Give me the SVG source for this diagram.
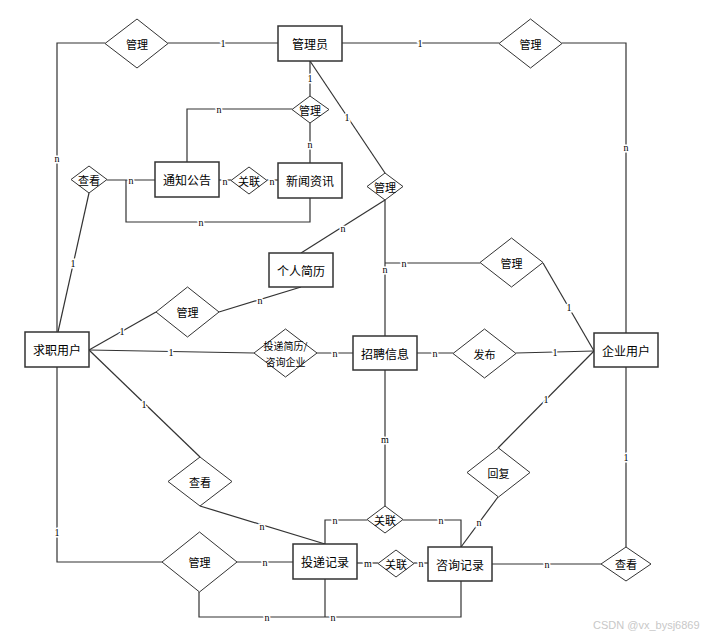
<svg xmlns="http://www.w3.org/2000/svg" width="723" height="638" viewBox="0 0 723 638">
<style>
.bg{fill:#fff}
.box{fill:#fff;stroke:#333;stroke-width:1.5}
.dia{fill:#fff;stroke:#333;stroke-width:1}
.ln{fill:none;stroke:#333;stroke-width:1.2}
.t{font-family:"Noto Sans CJK SC","Liberation Sans",sans-serif;font-size:12px;fill:#000;text-anchor:middle;dominant-baseline:central}
.ts{font-family:"Noto Sans CJK SC","Liberation Sans",sans-serif;font-size:11px;fill:#000;text-anchor:middle;dominant-baseline:central}
.tx{font-family:"Noto Sans CJK SC","Liberation Sans",sans-serif;font-size:10px;fill:#000;text-anchor:middle;dominant-baseline:central}
.lb{font-family:"Liberation Serif",serif;font-size:10px;fill:#000;text-anchor:middle;dominant-baseline:central;stroke:#fff;stroke-width:3;paint-order:stroke}
.wm{font-family:"Liberation Sans",sans-serif;font-size:11px;fill:#c8c8c8}
</style>
<rect class="bg" x="0" y="0" width="723" height="638"/>
<g id="connectors">
<polyline class="ln" points="105,43 57,43 57,332"/>
<line class="ln" x1="168" y1="43" x2="278" y2="43"/>
<line class="ln" x1="342" y1="43" x2="499" y2="43"/>
<polyline class="ln" points="562,43 626,43 626,333"/>
<line class="ln" x1="310" y1="61" x2="310" y2="96"/>
<line class="ln" x1="310" y1="61" x2="385" y2="173"/>
<polyline class="ln" points="292,109 187,109 187,162"/>
<line class="ln" x1="310" y1="123" x2="310" y2="163"/>
<line class="ln" x1="107" y1="180" x2="155" y2="180"/>
<polyline class="ln" points="126,180 126,222 310,222 310,198"/>
<line class="ln" x1="219" y1="180" x2="231" y2="180"/>
<line class="ln" x1="267" y1="180" x2="278" y2="180"/>
<line class="ln" x1="89" y1="193" x2="58" y2="332"/>
<line class="ln" x1="385" y1="200" x2="301" y2="253"/>
<line class="ln" x1="385" y1="200" x2="385" y2="336"/>
<polyline class="ln" points="385,263 480,263"/>
<line class="ln" x1="89" y1="350" x2="156" y2="312"/>
<line class="ln" x1="219" y1="312" x2="301" y2="287"/>
<line class="ln" x1="89" y1="350" x2="254" y2="353"/>
<line class="ln" x1="317" y1="353" x2="353" y2="353"/>
<line class="ln" x1="417" y1="353" x2="453" y2="353"/>
<line class="ln" x1="516" y1="353" x2="594" y2="351"/>
<line class="ln" x1="543" y1="263" x2="594" y2="351"/>
<line class="ln" x1="594" y1="351" x2="498" y2="448"/>
<line class="ln" x1="498" y1="497" x2="461" y2="547"/>
<line class="ln" x1="89" y1="350" x2="200" y2="457"/>
<line class="ln" x1="200" y1="506" x2="325" y2="544"/>
<line class="ln" x1="385" y1="370" x2="385" y2="506"/>
<polyline class="ln" points="367,520 325,520 325,544"/>
<polyline class="ln" points="403,520 461,520 461,547"/>
<polyline class="ln" points="57,367 57,562 162,562"/>
<line class="ln" x1="237" y1="562" x2="293" y2="562"/>
<line class="ln" x1="357" y1="563" x2="378" y2="563"/>
<line class="ln" x1="414" y1="563" x2="428" y2="563"/>
<line class="ln" x1="492" y1="564" x2="601" y2="564"/>
<line class="ln" x1="626" y1="367" x2="626" y2="547"/>
<polyline class="ln" points="199,592 199,617 461,617 461,581"/>
<line class="ln" x1="325" y1="579" x2="325" y2="617"/>
<g id="labels">
<text class="lb" x="223" y="43">1</text>
<text class="lb" x="420" y="43">1</text>
<text class="lb" x="57" y="158">n</text>
<text class="lb" x="626" y="147">n</text>
<text class="lb" x="310" y="78">1</text>
<text class="lb" x="347" y="117">1</text>
<text class="lb" x="219" y="109">n</text>
<text class="lb" x="310" y="144">n</text>
<text class="lb" x="131" y="180">n</text>
<text class="lb" x="225" y="181">n</text>
<text class="lb" x="272" y="181">n</text>
<text class="lb" x="201" y="222">n</text>
<text class="lb" x="73" y="263">1</text>
<text class="lb" x="343" y="228">n</text>
<text class="lb" x="385" y="269">n</text>
<text class="lb" x="404" y="263">n</text>
<text class="lb" x="122" y="331">1</text>
<text class="lb" x="260" y="300">n</text>
<text class="lb" x="171" y="352">1</text>
<text class="lb" x="335" y="353">n</text>
<text class="lb" x="435" y="353">n</text>
<text class="lb" x="555" y="352">1</text>
<text class="lb" x="569" y="307">1</text>
<text class="lb" x="144" y="404">1</text>
<text class="lb" x="546" y="399">1</text>
<text class="lb" x="385" y="439">m</text>
<text class="lb" x="626" y="457">1</text>
<text class="lb" x="262" y="526">n</text>
<text class="lb" x="479" y="522">n</text>
<text class="lb" x="335" y="520">n</text>
<text class="lb" x="441" y="520">n</text>
<text class="lb" x="57" y="532">1</text>
<text class="lb" x="265" y="562">n</text>
<text class="lb" x="368" y="563">m</text>
<text class="lb" x="421" y="563">n</text>
<text class="lb" x="547" y="564">n</text>
<text class="lb" x="267" y="617">n</text>
<text class="lb" x="333" y="617">n</text>
</g>
</g>
<g id="n-admin"><rect class="box" x="278" y="26" width="64" height="35"/><text class="t" x="310" y="43.5">管理员</text></g>
<g id="d-manage-tl"><polygon class="dia" points="137,19 168,43.5 137,68 105,43.5"/><text class="ts" x="137" y="43.5">管理</text></g>
<g id="d-manage-tr"><polygon class="dia" points="530.5,19 562,43.5 530.5,68 499,43.5"/><text class="ts" x="530.5" y="43.5">管理</text></g>
<g id="d-manage-news"><polygon class="dia" points="310,96 329,109.5 310,123 292,109.5"/><text class="ts" x="310" y="109.5">管理</text></g>
<g id="n-notice"><rect class="box" x="155" y="162" width="64" height="35"/><text class="t" x="187" y="179.5">通知公告</text></g>
<g id="d-rel-news"><polygon class="dia" points="249,167 267,180.5 249,194 231,180.5"/><text class="ts" x="249" y="180.5">关联</text></g>
<g id="n-news"><rect class="box" x="278" y="163" width="64" height="35"/><text class="t" x="310" y="180.5">新闻资讯</text></g>
<g id="d-view-news"><polygon class="dia" points="89,166 107,179.5 89,193 71,179.5"/><text class="ts" x="89" y="179.5">查看</text></g>
<g id="d-manage-mid"><polygon class="dia" points="385,173 403,186.5 385,200 367,186.5"/><text class="ts" x="385" y="186.5">管理</text></g>
<g id="n-resume"><rect class="box" x="269" y="253" width="64" height="34"/><text class="t" x="301" y="270">个人简历</text></g>
<g id="d-manage-resume"><polygon class="dia" points="187.5,287 219,312 187.5,337 156,312"/><text class="ts" x="187.5" y="312">管理</text></g>
<g id="d-manage-job"><polygon class="dia" points="511.5,238 543,262.5 511.5,287 480,262.5"/><text class="ts" x="511.5" y="262.5">管理</text></g>
<g id="n-seeker"><rect class="box" x="25" y="332" width="64" height="35"/><text class="t" x="57" y="349.5">求职用户</text></g>
<g id="d-apply"><polygon class="dia" points="285.5,329 317,353 285.5,377 254,353"/><text class="tx" x="285.5" y="345">投递简历/</text><text class="tx" x="285.5" y="361">咨询企业</text></g>
<g id="n-job"><rect class="box" x="353" y="336" width="64" height="34"/><text class="t" x="385" y="353">招聘信息</text></g>
<g id="d-publish"><polygon class="dia" points="484.5,329 516,353.5 484.5,378 453,353.5"/><text class="ts" x="484.5" y="353.5">发布</text></g>
<g id="n-company"><rect class="box" x="594" y="333" width="64" height="34"/><text class="t" x="626" y="350">企业用户</text></g>
<g id="d-reply"><polygon class="dia" points="498.5,448 530,472.5 498.5,497 467,472.5"/><text class="ts" x="498.5" y="472.5">回复</text></g>
<g id="d-view-apply"><polygon class="dia" points="200,457 232,481.5 200,506 168,481.5"/><text class="ts" x="200" y="481.5">查看</text></g>
<g id="d-rel-top"><polygon class="dia" points="385,506 403,519.5 385,533 367,519.5"/><text class="ts" x="385" y="519.5">关联</text></g>
<g id="d-manage-bl"><polygon class="dia" points="199.5,532 237,562 199.5,592 162,562"/><text class="ts" x="199.5" y="562">管理</text></g>
<g id="n-apply"><rect class="box" x="293" y="544" width="64" height="35"/><text class="t" x="325" y="561.5">投递记录</text></g>
<g id="d-rel-bottom"><polygon class="dia" points="396,550 414,563.5 396,577 378,563.5"/><text class="ts" x="396" y="563.5">关联</text></g>
<g id="n-consult"><rect class="box" x="428" y="547" width="64" height="34"/><text class="t" x="460" y="564">咨询记录</text></g>
<g id="d-view-consult"><polygon class="dia" points="626,547 651,564 626,581 601,564"/><text class="ts" x="626" y="564">查看</text></g>
<text class="wm" x="593" y="629">CSDN @vx_bysj6869</text>
</svg>
